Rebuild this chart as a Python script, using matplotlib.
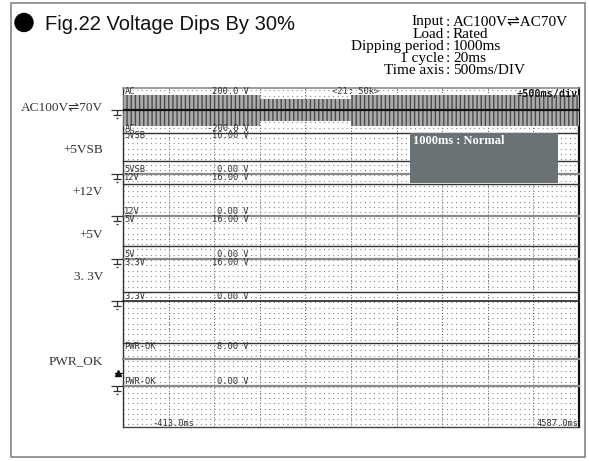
import matplotlib
matplotlib.use('Agg')
import matplotlib.pyplot as plt
import numpy as np
from matplotlib.path import Path
from matplotlib.patches import Rectangle, Circle

plt.rcParams['lines.scale_dashes'] = False

# ---- values ----
t_start, t_end = -413.0, 4587.0          # ms, left / right edge of the record
ms_per_div = 500
dip_start, dip_end = 1087.0, 2087.0      # ms
ac_t = [t_start, dip_start, dip_start, dip_end, dip_end, t_end]
ac_rms = [100, 100, 70, 70, 100, 100]    # V
ac_range = (-200.0, 200.0)

channels = ['5VSB', '12V', '5V', '3.3V', 'PWR-OK']
side_labels = ['+5VSB', '+12V', '+5V', '3. 3V', 'PWR_OK']
ch_top = [16.0, 16.0, 16.0, 16.0, 8.0]
ch_bottom = [0.0, 0.0, 0.0, 0.0, 0.0]
ch_level = [5.0, 12.0, 5.0, 3.3, 5.0]
trig_level = 2.5

info_labels = ['Input', 'Load', 'Dipping period', '1 cycle', 'Time axis']
info_values = ['AC100V\u21ccAC70V', 'Rated', '1000ms', '20ms', '500ms/DIV']

# ---- layout, in pixels of the 589x461 picture ----
W, H = 589, 461
X0, X1 = 123, 579
Y0, Y1 = 88, 427
ac_px = (88, 132.7)
ch_px = [(132.7, 174), (174, 216), (216, 259), (259, 300.7), (343.3, 386)]
trace_col = ['#333333', '#333333', '#333333', '#333333', '#8a8a8a']
trace_lw = [1.0, 1.0, 1.0, 1.0, 1.6]
zero_col = ['#8a8a8a', '#8a8a8a', '#8a8a8a', '#333333', '#8a8a8a']
zero_lw = [1.6, 1.6, 1.6, 1.3, 1.6]
top_line = [True, False, False, False, True]

PX = 72 / 100  # points per pixel
MONO = 'DejaVu Sans Mono'
SERIF = ['Liberation Serif', 'DejaVu Sans']


def box(top, bottom, left=X0, right=X1):
    return [left / W, 1 - bottom / H, (right - left) / W, (bottom - top) / H]


ground = Path([(-1, 0), (1, 0), (0, 0), (0, -0.9), (-0.6, -0.9), (0.6, -0.9),
               (-0.25, -1.4), (0.25, -1.4)],
              [Path.MOVETO, Path.LINETO, Path.MOVETO, Path.LINETO,
               Path.MOVETO, Path.LINETO, Path.MOVETO, Path.LINETO])


def channel_text(ax, name, top_txt, bot_txt, side):
    kw = dict(xycoords='axes fraction', textcoords='offset points',
              fontsize=6.3, family=MONO, color='#333333', va='center')
    ax.annotate(name, xy=(0.003, 1), xytext=(0, -3.2 * PX), ha='left', **kw)
    ax.annotate(top_txt, xy=(0.276, 1), xytext=(0, -3.2 * PX), ha='right', **kw)
    ax.annotate(name, xy=(0.003, 0), xytext=(0, 4.6 * PX), ha='left', **kw)
    ax.annotate(bot_txt, xy=(0.276, 0), xytext=(0, 4.6 * PX), ha='right', **kw)
    ax.annotate(side, xy=(0, 0.5), xycoords='axes fraction',
                xytext=(-20 * PX, 3 * PX), textcoords='offset points',
                ha='right', va='center', fontsize=9.5, family=SERIF,
                color='#333333')
    ax.plot([-0.013], [0], marker=ground, ms=12, mew=0.9, color='#333333',
            transform=ax.get_yaxis_transform(), clip_on=False)


fig = plt.figure(figsize=(W / 100, H / 100), dpi=100)

# dotted screen grid
base = fig.add_axes(box(Y0, Y1))
base.set_xlim(t_start, t_end)
base.set_ylim(0, Y1 - Y0)
for y in np.arange(2.6, Y1 - Y0, 5.3):
    base.axhline(y, color='#808080', lw=0.8, ls=(0, (0.75, 2.53)))
for x in np.arange(t_start + ms_per_div, t_end - 1, ms_per_div):
    base.axvline(x, color='#666666', lw=0.7, ls=(0, (0.75, 1.4)))
base.set_xticks([])
base.set_yticks([])
for side, c, lw in [('left', '#333333', 1.0), ('right', '#111111', 1.6),
                    ('top', '#8a8a8a', 1.2), ('bottom', '#444444', 1.0)]:
    base.spines[side].set_color(c)
    base.spines[side].set_linewidth(lw)
tkw = dict(xycoords='axes fraction', textcoords='offset points', fontsize=6.3,
           family=MONO, color='#333333', va='center')
base.annotate(f'{t_start:.1f}ms', xy=(0.064, 0), xytext=(0, 4 * PX), ha='left', **tkw)
base.annotate(f'{t_end:.1f}ms', xy=(0.998, 0), xytext=(0, 4 * PX), ha='right', **tkw)

# AC input
ax = fig.add_axes(box(*ac_px))
ax.set_xlim(t_start, t_end)
ax.set_ylim(*ac_range)
ax.axis('off')
peak = np.array(ac_rms) * np.sqrt(2)
ax.fill_between(ac_t, -peak, peak, facecolor='#ababab', edgecolor='#4a4a4a',
                hatch='||||', lw=0)
ax.axhline(0, color='#111111', lw=1.6)
channel_text(ax, 'AC', f'{ac_range[1]:.1f} V', f'{ac_range[0]:.1f} V',
             'AC100V\u21cc70V')

# DC outputs
for i, name in enumerate(channels):
    ax = fig.add_axes(box(*ch_px[i]))
    ax.set_xlim(t_start, t_end)
    ax.set_ylim(ch_bottom[i], ch_top[i])
    ax.axis('off')
    ax.plot([t_start, t_end], [ch_bottom[i], ch_bottom[i]], color=zero_col[i],
            lw=zero_lw[i], clip_on=False)
    if top_line[i]:
        ax.plot([t_start, t_end], [ch_top[i], ch_top[i]], color='#333333',
                lw=1.0, clip_on=False)
    ax.plot([t_start, t_end], [ch_level[i], ch_level[i]], color=trace_col[i],
            lw=trace_lw[i], clip_on=False)
    channel_text(ax, name, f'{ch_top[i]:.2f} V', f'{ch_bottom[i]:.2f} V',
                 side_labels[i])
    if name == 'PWR-OK':
        ax.plot([-0.018, -0.002], [trig_level, trig_level], color='#111111',
                lw=0.8, transform=ax.get_yaxis_transform(), clip_on=False)
        ax.plot([-0.012], [trig_level], marker='^', ms=4, color='#111111',
                transform=ax.get_yaxis_transform(), clip_on=False)

# page decorations
ov = fig.add_axes([0, 0, 1, 1])
ov.set_xlim(0, W)
ov.set_ylim(H, 0)
ov.axis('off')
ov.add_patch(Rectangle((10.5, 3.5), 574, 453, fill=False, ec='#7a7a7a', lw=1.1))
ov.add_patch(Circle((24, 22.5), 9, color='black'))
ov.text(45, 30, 'Fig.22 Voltage Dips By 30%', fontsize=14.5,
        family='Liberation Sans', va='baseline', color='#111111')
for i, (lab, val) in enumerate(zip(info_labels, info_values)):
    y = 25.5 + 12.2 * i
    ov.text(444, y, lab, ha='right', va='baseline', fontsize=11, family=SERIF)
    ov.text(448, y, ':', ha='center', va='baseline', fontsize=11, family=SERIF)
    ov.text(453, y, val, ha='left', va='baseline', fontsize=11, family=SERIF)

ov.add_patch(Rectangle((410, 133), 148, 49.5, fc='#6b7275', ec='none'))
ov.text(413, 140.5, f'{dip_end - dip_start:.0f}ms : Normal', color='white',
        fontsize=9, fontweight='bold', family=SERIF, va='center')
ov.text(332, 92, '<21: 50k>', fontsize=6.3, family=MONO, color='#333333',
        va='center')
ov.text(578, 93.5, f'\u00f7{ms_per_div}ms/div', fontsize=7.3, family=MONO,
        fontweight='bold', color='#111111', ha='right', va='center')

fig.savefig('out.png', dpi=100)
